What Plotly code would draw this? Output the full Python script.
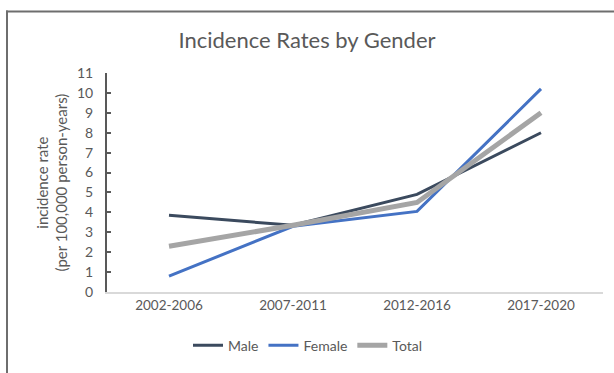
import plotly.graph_objects as go

periods = ["2002-2006", "2007-2011", "2012-2016", "2017-2020"]
male = [3.85, 3.35, 4.9, 8.0]
female = [0.8, 3.3, 4.05, 10.2]
total = [2.3, 3.35, 4.5, 9.0]
y_ticks = list(range(0, 12))

FONT = "Lato"
TXT = "#595959"

fig = go.Figure()
fig.add_trace(go.Scatter(x=periods, y=male, mode="lines", name="Male",
                         line=dict(color="#3B4A5E", width=3)))
fig.add_trace(go.Scatter(x=periods, y=female, mode="lines", name="Female",
                         line=dict(color="#4472C4", width=3)))
fig.add_trace(go.Scatter(x=periods, y=total, mode="lines", name="Total",
                         line=dict(color="#A5A5A5", width=5)))

L, R, T, B = 107, 11, 73, 76
W, H = 614, 373
pw = W - L - R
ph = H - T - B

def px_x(x):
    return (x - L) / pw

def px_y(y):
    return (H - B - y) / ph

fig.update_layout(
    width=W, height=H,
    margin=dict(l=L, r=R, t=T, b=B),
    paper_bgcolor="white", plot_bgcolor="white",
    font=dict(family=FONT, color=TXT, size=14),
    title=dict(text="Incidence Rates by Gender", x=0.5, xanchor="center",
               y=1 - 40 / H, yanchor="middle",
               font=dict(family=FONT, size=22, color=TXT)),
    showlegend=True,
    legend=dict(orientation="h", x=px_x(188), xanchor="left",
                y=px_y(352), yanchor="middle",
                font=dict(family=FONT, size=14, color=TXT),
                itemwidth=30, tracegroupgap=0, bgcolor="rgba(0,0,0,0)"),
    xaxis=dict(type="category", range=[-0.5, 3.5], showgrid=False,
               showline=True, linecolor="#D9D9D9", linewidth=1.5,
               ticks="", tickfont=dict(size=13.5, color=TXT), zeroline=False),
    yaxis=dict(range=[0, 11], tickvals=y_ticks, showgrid=False,
               showline=True, linecolor="#595959", linewidth=2,
               ticks="inside", ticklen=4, tickwidth=1.5, tickcolor="#595959",
               ticklabelstandoff=9,
               tickfont=dict(size=14, color=TXT), zeroline=False),
)

fig.add_annotation(text="incidence rate<br>(per 100,000 person-years)",
                   xref="paper", yref="paper", x=px_x(51), y=0.5,
                   xanchor="center", yanchor="middle", textangle=-90,
                   showarrow=False, font=dict(family=FONT, size=15, color=TXT))

# outer frame (top and left edges visible)
fig.add_shape(type="line", xref="paper", yref="paper",
              x0=px_x(6), x1=px_x(W), y0=px_y(10), y1=px_y(10),
              line=dict(color="#6E6E6E", width=2), layer="below")
fig.add_shape(type="line", xref="paper", yref="paper",
              x0=px_x(7), x1=px_x(7), y0=px_y(9), y1=px_y(H + 10),
              line=dict(color="#6E6E6E", width=2), layer="below")

fig.write_html("out.html")
